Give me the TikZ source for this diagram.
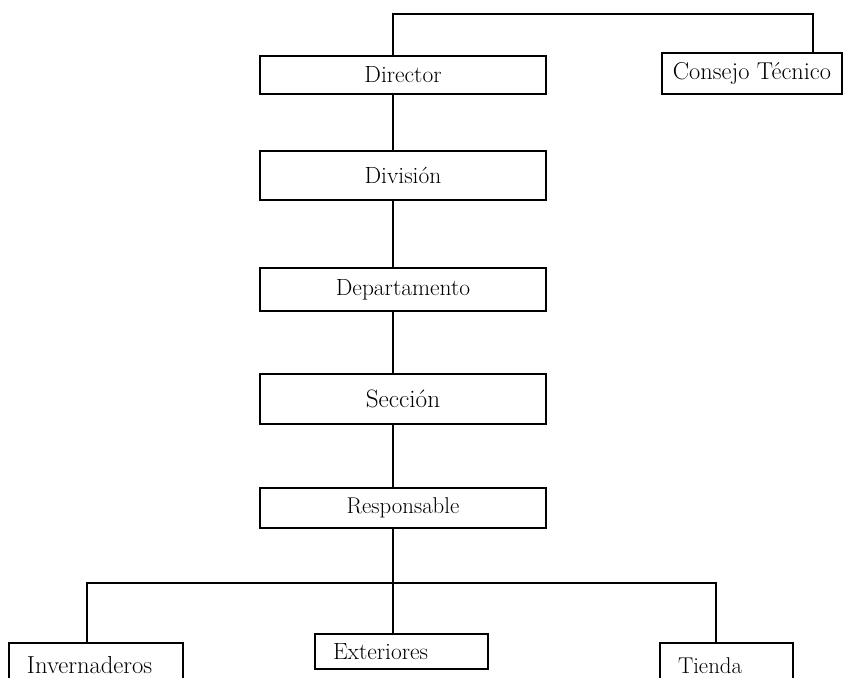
\documentclass[tikz,border=0pt]{standalone}
\usepackage{fontspec}
\usepackage{tikz}
\newcommand{\inkfont}{\addfontfeatures{FakeBold=0.5}}
\begin{document}
\begin{tikzpicture}[x=0.03cm,y=-0.03cm,line width=1.4pt,
  box/.style={draw,rectangle,minimum width=8.58cm,inner sep=0pt,font=\fontsize{20}{24}\selectfont\inkfont},
  leaf/.style={draw,rectangle,align=left,inner xsep=0.54cm,inner ysep=0pt,font=\fontsize{20}{24}\selectfont\inkfont}]
\useasboundingbox (0,0) rectangle (843,678);
\clip (0,0) rectangle (843,678);
\path
(403,75)    node[box,minimum height=1.14cm] (dir) {Director}
(403,175.5) node[box,minimum height=1.47cm] (div) {División}
(403,289.5) node[box,minimum height=1.29cm] (dep) {Departamento}
(403,399)   node[box,minimum height=1.5cm,font=\fontsize{21.5}{26}\selectfont\inkfont] (sec) {Sección}
(403,508)   node[box,minimum height=1.2cm,font=\fontsize{19.5}{23}\selectfont\inkfont] (resp) {Responsable}
(752,73.5)  node[box,minimum width=5.4cm,minimum height=1.23cm,font=\fontsize{20.8}{25}\selectfont\inkfont] (cons) {Consejo Técnico}

(96,665.5)   node[leaf,text width=4.14cm,minimum height=1.35cm,font=\fontsize{21}{25}\selectfont\inkfont] (inv) {Invernaderos}
(401.5,651.5) node[leaf,text width=4.11cm,minimum height=1.05cm] (ext) {Exteriores}
(726.5,665.5) node[leaf,text width=2.91cm,minimum height=1.35cm,font=\fontsize{19.5}{23}\selectfont\inkfont] (tie) {Tienda};

\coordinate (spine) at (393,0);
\coordinate (ctop) at (813,14);
\coordinate (busL) at (87,583);
\coordinate (busR) at (716,583);

% linea de mando
\draw (dir.south -| spine)--(div.north -| spine);
\draw (div.south -| spine)--(dep.north -| spine);
\draw (dep.south -| spine)--(sec.north -| spine);
\draw (sec.south -| spine)--(resp.north -| spine);
\draw (resp.south -| spine)--(ext.north -| spine);

% consejo
\draw (dir.north -| spine) |- (ctop) -- (ctop |- cons.north);

% areas
\draw (inv.north -| busL) -- (busL) -- (busR) -- (tie.north -| busR);
\end{tikzpicture}
\end{document}
